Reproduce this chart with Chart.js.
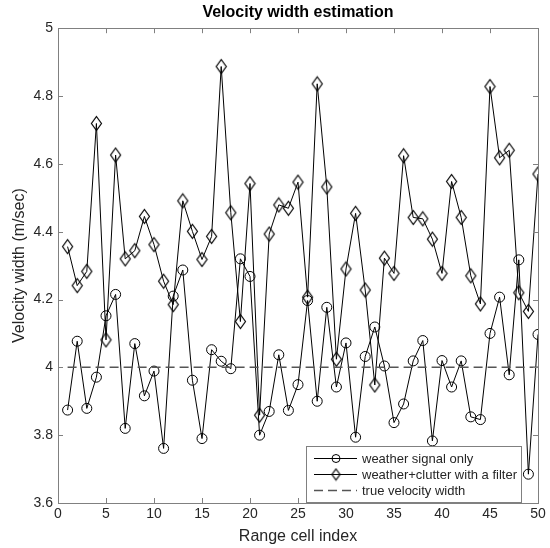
<!DOCTYPE html>
<html>
<head>
<meta charset="utf-8">
<script src="https://cdn.jsdelivr.net/npm/chart.js@4"></script>
<style>
  html, body { margin: 0; padding: 0; background: #fff; }
</style>
</head>
<body>
<canvas id="graficoVelocidad" width="550" height="548"></canvas>
<script>
// Datos
const cellIndex = [1, 2, 3, 4, 5, 6, 7, 8, 9, 10, 11, 12, 13, 14, 15, 16, 17, 18, 19, 20,
    21, 22, 23, 24, 25, 26, 27, 28, 29, 30, 31, 32, 33, 34, 35, 36, 37, 38, 39, 40,
    41, 42, 43, 44, 45, 46, 47, 48, 49, 50];
const weatherOnly = [3.874, 4.077, 3.879, 3.971, 4.152, 4.215, 3.820, 4.070, 3.916, 3.989,
    3.761, 4.210, 4.287, 3.962, 3.790, 4.052, 4.018, 3.996, 4.320, 4.268,
    3.800, 3.870, 4.037, 3.873, 3.949, 4.197, 3.900, 4.177, 3.942, 4.072,
    3.794, 4.032, 4.119, 4.004, 3.837, 3.892, 4.019, 4.079, 3.783, 4.020,
    3.942, 4.019, 3.854, 3.846, 4.100, 4.207, 3.978, 4.317, 3.685, 4.097];
const weatherClutter = [4.356, 4.241, 4.283, 4.719, 4.081, 4.626, 4.320, 4.344, 4.445, 4.362,
    4.254, 4.185, 4.491, 4.401, 4.318, 4.386, 4.887, 4.456, 4.135, 4.542,
    3.859, 4.393, 4.479, 4.469, 4.546, 4.207, 4.836, 4.532, 4.024, 4.290,
    4.454, 4.228, 3.948, 4.322, 4.277, 4.624, 4.442, 4.438, 4.378, 4.277,
    4.548, 4.442, 4.270, 4.187, 4.828, 4.618, 4.640, 4.220, 4.165, 4.570];
const trueWidth = 4;
const seriesNames = ['weather signal only', 'weather+clutter with a filter', 'true velocity width'];

const fontFamily = '"Liberation Sans", Arial, Helvetica, sans-serif';
const axisGray = '#808080';
const textGray = '#262626';

// marcador rombo estilo MATLAB (mas alto que ancho)
function diamondMarker(hw, hh) {
    const c = document.createElement('canvas');
    c.width = hw * 2 + 3;
    c.height = hh * 2 + 3;
    const cx = c.width / 2, cy = c.height / 2;
    const g = c.getContext('2d');
    g.strokeStyle = '#000';
    g.lineWidth = 1.2;
    g.beginPath();
    g.moveTo(cx, cy - hh);
    g.lineTo(cx + hw, cy);
    g.lineTo(cx, cy + hh);
    g.lineTo(cx - hw, cy);
    g.closePath();
    g.stroke();
    return c;
}
const bigDiamond = diamondMarker(5, 7);
const smallDiamond = diamondMarker(4, 5.5);

// caja y marcas hacia dentro en los cuatro lados, mas la leyenda
const frameBox = {
    id: 'frameBox',
    afterDatasetsDraw(chart) {
        const { ctx, chartArea: a, scales: { x, y } } = chart;
        ctx.save();
        ctx.strokeStyle = axisGray;
        ctx.lineWidth = 1;
        ctx.strokeRect(Math.round(a.left) + 0.5, Math.round(a.top) + 0.5,
            Math.round(a.right - a.left), Math.round(a.bottom - a.top));
        const len = 5;
        ctx.beginPath();
        x.ticks.forEach(t => {
            const px = Math.round(x.getPixelForValue(t.value)) + 0.5;
            ctx.moveTo(px, a.bottom); ctx.lineTo(px, a.bottom - len);
            ctx.moveTo(px, a.top); ctx.lineTo(px, a.top + len);
        });
        y.ticks.forEach(t => {
            const py = Math.round(y.getPixelForValue(t.value)) + 0.5;
            ctx.moveTo(a.left, py); ctx.lineTo(a.left + len, py);
            ctx.moveTo(a.right, py); ctx.lineTo(a.right - len, py);
        });
        ctx.stroke();

        // leyenda abajo a la derecha
        const bx = a.right - 232, by = a.bottom - 57, bw = 215, bh = 56;
        ctx.fillStyle = '#fff';
        ctx.fillRect(bx, by, bw, bh);
        ctx.strokeStyle = axisGray;
        ctx.strokeRect(Math.round(bx) + 0.5, Math.round(by) + 0.5, bw, bh);
        const rows = [by + 12, by + 28, by + 44];
        ctx.font = '13px ' + fontFamily;
        ctx.textBaseline = 'middle';
        rows.forEach((ry, i) => {
            ctx.strokeStyle = i === 2 ? '#555' : '#000';
            ctx.lineWidth = i === 2 ? 1.5 : 1;
            ctx.setLineDash(i === 2 ? [9, 5] : []);
            ctx.beginPath();
            ctx.moveTo(bx + 8, ry + 0.5);
            ctx.lineTo(bx + 51, ry + 0.5);
            ctx.stroke();
            ctx.setLineDash([]);
            ctx.lineWidth = 1;
            ctx.strokeStyle = '#000';
            const mx = bx + 30;
            if (i === 0) {
                ctx.beginPath();
                ctx.arc(mx, ry + 0.5, 4, 0, Math.PI * 2);
                ctx.stroke();
            } else if (i === 1) {
                ctx.drawImage(smallDiamond, mx - smallDiamond.width / 2, ry + 0.5 - smallDiamond.height / 2);
            }
            ctx.fillStyle = textGray;
            ctx.fillText(seriesNames[i], bx + 56, ry + 1);
        });
        ctx.restore();
    }
};

const ctx = document.getElementById('graficoVelocidad').getContext('2d');
new Chart(ctx, {
    type: 'line',
    data: {
        datasets: [
            {
                label: seriesNames[2],
                data: [{ x: cellIndex[0], y: trueWidth }, { x: cellIndex[cellIndex.length - 1], y: trueWidth }],
                borderColor: '#555',
                borderWidth: 1.5,
                borderDash: [9, 5],
                pointRadius: 0
            },
            {
                label: seriesNames[0],
                data: cellIndex.map((c, i) => ({ x: c, y: weatherOnly[i] })),
                borderColor: '#000',
                borderWidth: 1,
                pointStyle: 'circle',
                pointRadius: 5,
                pointBorderWidth: 1,
                pointBorderColor: '#000',
                pointBackgroundColor: 'rgba(0,0,0,0)',
                tension: 0
            },
            {
                label: seriesNames[1],
                data: cellIndex.map((c, i) => ({ x: c, y: weatherClutter[i] })),
                borderColor: '#000',
                borderWidth: 1,
                pointStyle: bigDiamond,
                pointRadius: 6,
                tension: 0
            }
        ]
    },
    options: {
        responsive: false,
        animation: false,
        devicePixelRatio: 1,
        layout: { padding: { left: 0, right: 12, top: 0, bottom: 0 } },
        plugins: {
            legend: { display: false },
            tooltip: { enabled: false },
            title: {
                display: true,
                fullSize: false,
                text: 'Velocity width estimation',
                color: '#000',
                font: { family: fontFamily, size: 16, weight: 'bold' },
                padding: { top: 3, bottom: 6 }
            }
        },
        scales: {
            x: {
                type: 'linear',
                min: 0,
                max: 50,
                ticks: {
                    stepSize: 5,
                    color: textGray,
                    font: { family: fontFamily, size: 14 },
                    padding: 3,
                    maxRotation: 0
                },
                grid: { display: false, drawTicks: false },
                border: { display: false },
                title: {
                    display: true,
                    text: 'Range cell index',
                    color: textGray,
                    font: { family: fontFamily, size: 16 },
                    padding: { top: 2, bottom: 1.5 }
                },
                afterFit: s => { s.height = 45; }
            },
            y: {
                min: 3.6,
                max: 5,
                ticks: {
                    stepSize: 0.2,
                    color: textGray,
                    font: { family: fontFamily, size: 14 },
                    padding: 5,
                    callback: v => String(+v.toFixed(1))
                },
                grid: { display: false, drawTicks: false },
                border: { display: false },
                title: {
                    display: true,
                    text: 'Velocity width (m/sec)',
                    color: textGray,
                    font: { family: fontFamily, size: 16 },
                    padding: { top: 10, bottom: 2 }
                },
                afterFit: s => { s.width = 58; }
            }
        }
    },
    plugins: [frameBox]
});
</script>
</body>
</html>
